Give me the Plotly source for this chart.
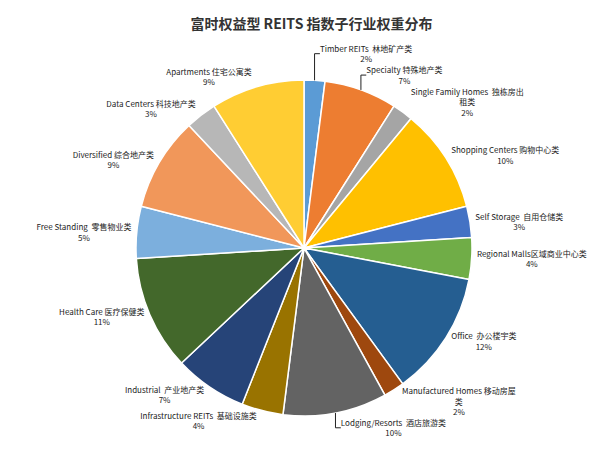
import plotly.graph_objects as go

# 行业分类及权重（%），从12点方向顺时针
categories = [
    'Timber REITs  林地矿产类', 'Specialty 特殊地产类', 'Single Family Homes  独栋房出<br>租类',
    'Shopping Centers 购物中心类', 'Self Storage  自用仓储类', 'Regional Malls区域商业中心类',
    'Office  办公楼宇类', 'Manufactured Homes 移动房屋<br>类', 'Lodging/Resorts  酒店旅游类',
    'Infrastructure REITs  基础设施类', 'Industrial  产业地产类', 'Health Care 医疗保健类',
    'Free Standing  零售物业类', 'Diversified 综合地产类', 'Data Centers 科技地产类',
    'Apartments 住宅公寓类',
]
weights = [2, 7, 2, 10, 3, 4, 12, 2, 10, 4, 7, 11, 5, 9, 3, 9]
colors = ['#5B9BD5', '#ED7D31', '#A5A5A5', '#FFC000', '#4472C4', '#70AD47',
          '#255E91', '#9E480E', '#636363', '#997300', '#264478', '#43682B',
          '#7CAFDD', '#F1975A', '#B7B7B7', '#FFCD33']

fig = go.Figure(go.Pie(
    labels=categories, values=weights, sort=False, direction='clockwise', rotation=0,
    marker=dict(colors=colors, line=dict(color='white', width=1.5)),
    texttemplate='%{label}<br>%{percent:.0%}', textposition='outside',
    textfont=dict(size=8, color='#222222'), showlegend=False,
))

fig.update_layout(
    width=607, height=453,
    title=dict(text='<b>富时权益型 REITS 指数子行业权重分布</b>', x=0.5, y=0.975,
               font=dict(size=14, color='#333333', family='Noto Sans CJK SC')),
    font=dict(family='Noto Sans CJK SC'),
    margin=dict(l=100, r=100, t=72, b=45),
    paper_bgcolor='white',
)

fig.write_html("out.html")
